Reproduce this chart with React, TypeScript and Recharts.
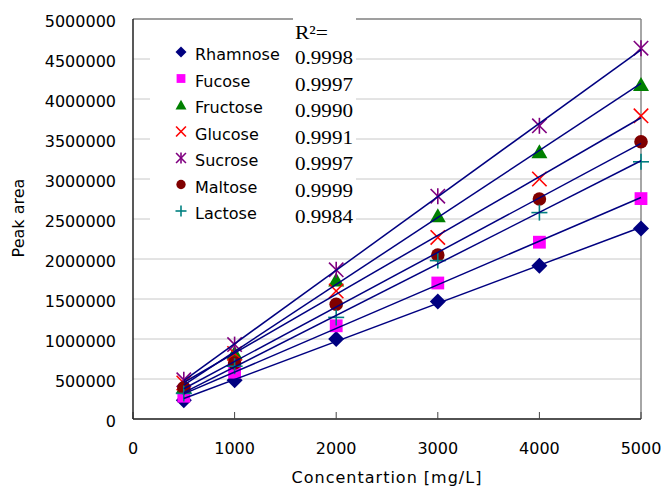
import { ScatterChart, Scatter, XAxis, YAxis, CartesianGrid, ReferenceLine } from "recharts";

const conc = [500, 1000, 2000, 3000, 4000, 5000];

const rhamnose = [235000, 485000, 1000000, 1470000, 1915000, 2380000];
const fucose = [285000, 585000, 1165000, 1700000, 2210000, 2755000];
const fructose = [400000, 825000, 1735000, 2540000, 3340000, 4180000];
const glucose = [450000, 820000, 1600000, 2270000, 3000000, 3790000];
const sucrose = [490000, 930000, 1865000, 2785000, 3665000, 4635000];
const maltose = [390000, 700000, 1435000, 2050000, 2750000, 3465000];
const lactose = [320000, 660000, 1270000, 1980000, 2580000, 3215000];

const names = ["Rhamnose", "Fucose", "Fructose", "Glucose", "Sucrose", "Maltose", "Lactose"];
const rSquared = ["0.9998", "0.9997", "0.9990", "0.9991", "0.9997", "0.9999", "0.9984"];
const xTicks = [0, 1000, 2000, 3000, 4000, 5000];
const yTicks = [0, 500000, 1000000, 1500000, 2000000, 2500000, 3000000, 3500000, 4000000, 4500000, 5000000];

type Kind = "diamond" | "square" | "triangle" | "cross" | "star" | "circle" | "plus";

const series: { name: string; values: number[]; kind: Kind; color: string }[] = [
  { name: names[0], values: rhamnose, kind: "diamond", color: "#000080" },
  { name: names[1], values: fucose, kind: "square", color: "#ff00ff" },
  { name: names[2], values: fructose, kind: "triangle", color: "#008000" },
  { name: names[3], values: glucose, kind: "cross", color: "#ff0000" },
  { name: names[4], values: sucrose, kind: "star", color: "#800080" },
  { name: names[5], values: maltose, kind: "circle", color: "#800000" },
  { name: names[6], values: lactose, kind: "plus", color: "#008080" },
];

const toPoints = (values: number[]) => conc.map((x, i) => ({ x, y: values[i] }));

const Marker = ({ kind, color, cx, cy, s }: { kind: Kind; color: string; cx: number; cy: number; s: number }) => {
  switch (kind) {
    case "diamond":
      return <polygon points={`${cx},${cy - s} ${cx + s},${cy} ${cx},${cy + s} ${cx - s},${cy}`} fill={color} />;
    case "square":
      return <rect x={cx - s * 0.8} y={cy - s * 0.8} width={s * 1.6} height={s * 1.6} fill={color} />;
    case "triangle":
      return <polygon points={`${cx},${cy - s * 0.95} ${cx + s},${cy + s * 0.8} ${cx - s},${cy + s * 0.8}`} fill={color} />;
    case "cross":
      return (
        <g stroke={color} strokeWidth={1.6}>
          <line x1={cx - s * 0.9} y1={cy - s * 0.9} x2={cx + s * 0.9} y2={cy + s * 0.9} />
          <line x1={cx - s * 0.9} y1={cy + s * 0.9} x2={cx + s * 0.9} y2={cy - s * 0.9} />
        </g>
      );
    case "star":
      return (
        <g stroke={color} strokeWidth={1.6}>
          <line x1={cx - s * 0.9} y1={cy - s * 0.9} x2={cx + s * 0.9} y2={cy + s * 0.9} />
          <line x1={cx - s * 0.9} y1={cy + s * 0.9} x2={cx + s * 0.9} y2={cy - s * 0.9} />
          <line x1={cx} y1={cy - s} x2={cx} y2={cy + s} />
        </g>
      );
    case "circle":
      return <circle cx={cx} cy={cy} r={s * 0.85} fill={color} />;
    default:
      return (
        <g stroke={color} strokeWidth={1.6}>
          <line x1={cx - s} y1={cy} x2={cx + s} y2={cy} />
          <line x1={cx} y1={cy - s} x2={cx} y2={cy + s} />
        </g>
      );
  }
};

const noShape = () => <g />;

const XLabel = () => (
  <text x={387} y={483} textAnchor="middle" fontSize={16} letterSpacing={1} fill="#000">
    Concentartion [mg/L]
  </text>
);

const YLabel = () => (
  <text x={24} y={218} textAnchor="middle" fontSize={16} fill="#000" transform="rotate(-90 24 218)">
    Peak area
  </text>
);

const LegendBox = () => (
  <svg width={662} height={490} style={{ position: "absolute", left: 0, top: 0, pointerEvents: "none" }}>
    <rect x={150} y={22} width={143} height={206} fill="#fff" />
    <rect x={293} y={16} width={63} height={212} fill="#fff" />
    <text x={295} y={39} fontFamily="'Liberation Serif', serif" fontSize={19} textLength={33} lengthAdjust="spacingAndGlyphs" fill="#000">
      R²=
    </text>
    {series.map((s, i) => {
      const cy = 54 + i * 26.5;
      return (
        <g key={s.name}>
          <Marker kind={s.kind} color={s.color} cx={181} cy={cy - 2} s={5.5} />
          <text x={195} y={cy + 6} fontSize={16} fill="#000">
            {s.name}
          </text>
          <text
            x={295}
            y={cy + 10}
            fontFamily="'Liberation Serif', serif"
            fontSize={19}
            textLength={58}
            lengthAdjust="spacingAndGlyphs"
            fill="#000"
          >
            {rSquared[i]}
          </text>
        </g>
      );
    })}
  </svg>
);

export default function App() {
  return (
    <div style={{ position: "absolute", left: 0, top: 0, width: 662, height: 490, background: "#fff", fontFamily: "'DejaVu Sans', sans-serif" }}>
      <ScatterChart width={662} height={490} margin={{ top: 19, right: 21, bottom: 0, left: 0 }}>
        <CartesianGrid vertical={false} stroke="#c8c8c8" strokeWidth={1} />
        <XAxis
          type="number"
          dataKey="x"
          domain={[0, 5000]}
          ticks={xTicks}
          height={71}
          tickSize={-7}
          tickMargin={31}
          tick={{ fontSize: 16, fill: "#000" }}
          axisLine={{ stroke: "#222", strokeWidth: 1.5 }}
          tickLine={{ stroke: "#444" }}
          label={<XLabel />}
        />
        <YAxis
          type="number"
          dataKey="y"
          domain={[0, 5000000]}
          ticks={yTicks}
          width={133}
          tickSize={0}
          tickMargin={17}
          tickLine={false}
          tick={{ fontSize: 16, fill: "#000", dy: 2 }}
          axisLine={{ stroke: "#222", strokeWidth: 1.5 }}
          label={<YLabel />}
        />
        <ReferenceLine y={5000000} stroke="#888" strokeWidth={1.5} />
        <ReferenceLine x={5000} stroke="#888" strokeWidth={1.5} />
        {series.map((s) => (
          <Scatter
            key={s.name}
            name={s.name}
            data={toPoints(s.values)}
            isAnimationActive={false}
            shape={(p: any) => <Marker kind={s.kind} color={s.color} cx={p.cx} cy={p.cy} s={8} />}
          />
        ))}
        {series.map((s) => (
          <Scatter
            key={s.name + "-fit"}
            data={toPoints(s.values)}
            isAnimationActive={false}
            line={{ stroke: "#000080", strokeWidth: 1.5 }}
            lineType="fitting"
            shape={noShape}
          />
        ))}
      </ScatterChart>
      <LegendBox />
    </div>
  );
}
